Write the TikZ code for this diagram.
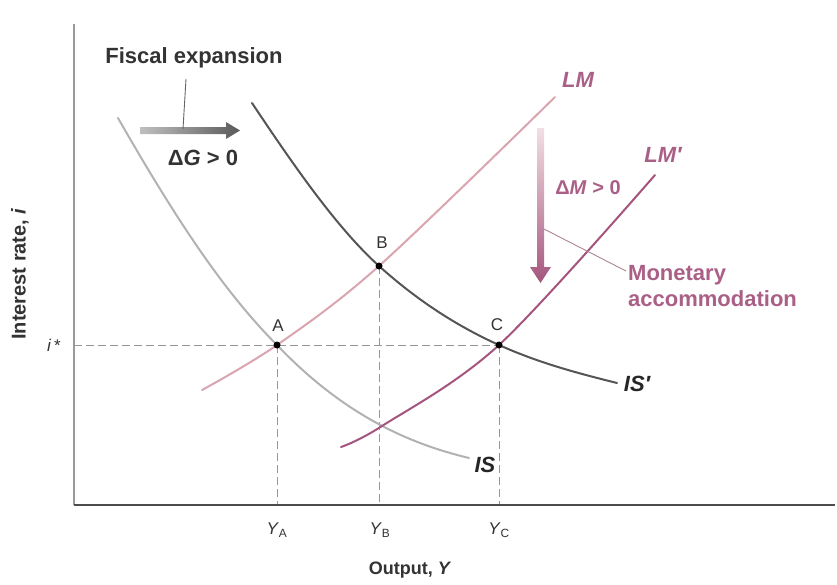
\documentclass[tikz,border=0pt]{standalone}
\usepackage{fontspec}
\setmainfont{Liberation Sans}
\begin{document}
\begin{tikzpicture}[x=1pt,y=-1pt,
  lbl/.style={font=\fontsize{22}{24}\selectfont\bfseries, inner sep=0pt},
  ptlbl/.style={font=\fontsize{17}{19}\selectfont, inner sep=0pt, text=black!80},
  ylbl/.style={font=\fontsize{17}{19}\selectfont, inner sep=0pt, text=black!80},
  dot/.style={circle, fill=black, inner sep=0pt, minimum size=7pt},
  guide/.style={draw=guidegray, line width=0.8pt, dash pattern=on 8pt off 4pt},
  curve/.style={line width=2pt, line cap=round}
]
\definecolor{isgray}{RGB}{178,178,178}
\definecolor{isdark}{RGB}{85,85,85}
\definecolor{lmpink}{RGB}{218,165,175}
\definecolor{lmmauve}{RGB}{165,85,125}
\definecolor{mauvetext}{RGB}{170,95,135}
\definecolor{guidegray}{RGB}{150,150,150}
\useasboundingbox (0,0) rectangle (837,584);

% points
\coordinate (A) at (277,345);
\coordinate (B) at (379,266);
\coordinate (C) at (499,345);
\coordinate (O) at (74,505);
\coordinate (ytop) at (74,24);
\coordinate (xend) at (835,505);
\coordinate (iax) at (74,345);
\coordinate (YAax) at (277,505);
\coordinate (YBax) at (379,505);
\coordinate (YCax) at (499,505);

% guides
\draw[guide] (iax) -- (C);
\draw[guide] (A) -- (YAax);
\draw[guide] (B) -- (YBax);
\draw[guide] (C) -- (YCax);

% axes
\draw[line width=2.2pt, draw=black!40] (O) -- (ytop);
\draw[line width=1.6pt, draw=black!70] (O) -- (xend);

% curves
\draw[curve, draw=isgray] (118,118) .. controls (173,214) and (222,290) .. (A)
  .. controls (352,424) and (424,447) .. (469,458);
\draw[curve, draw=isdark] (252,103) .. controls (294,166) and (337,228) .. (B)
  .. controls (419,302) and (459,327) .. (C)
  .. controls (539,363) and (577,373) .. (617,383);
\draw[curve, draw=lmpink] plot[smooth, tension=0.55] coordinates {(202,390) (277,345) (379,266) (555,97)};
\draw[curve, draw=lmmauve] plot[smooth, tension=0.55] coordinates {(341,447) (382,426) (499,345) (655,175)};

% dots
\node[dot] (dA) at (A) {};
\node[dot] (dB) at (B) {};
\node[dot] (dC) at (C) {};
\node[ptlbl] (lA) at (278,326) {A};
\node[ptlbl] (lB) at (382,243) {B};
\node[ptlbl] (lC) at (497,325) {C};

% curve labels
\node[lbl, text=black!85] (lIS) at (485,465) {\itshape IS};
\node[lbl, text=black!85] (lISp) at (637,384) {\itshape IS′};
\node[lbl, text=mauvetext] (lLM) at (578,80) {\itshape LM};
\node[lbl, text=mauvetext] (lLMp) at (663,155) {\itshape LM′};

% fiscal expansion
\shade[left color=black!25, right color=black!65] (140,127) -- (226,127) -- (226,122) -- (240,130.5) -- (226,139) -- (226,134) -- (140,134) -- cycle;
\node[lbl, text=black!80] (fe) at (194,58) {Fiscal expansion};
\coordinate (feend) at (183,129);
\draw[line width=0.9pt, draw=black!60] (186,79) -- (feend);
\node[lbl, text=black!80] (dG) at (203,158) {Δ\textit{G} > 0};

% monetary accommodation
\shade[top color=lmpink!35, bottom color=lmmauve] (537,128) -- (544,128) -- (544,267) -- (551,267) -- (540.5,283) -- (530,267) -- (537,267) -- cycle;
\node[font=\fontsize{20}{22}\selectfont\bfseries, inner sep=0pt, text=mauvetext] (dM) at (588,188) {Δ\textit{M} > 0};
\coordinate (mastart) at (544,229);
\node[lbl, text=mauvetext, anchor=west] (mon) at (628,275) {Monetary};
\node[lbl, text=mauvetext, anchor=west] (acc) at (628,299) {accommodation};
\draw[line width=0.9pt, draw=lmpink!80!black] (mastart) -- (626,271);

% axis labels
\node[ylbl] (yA) at (277,530) {\textit{Y}\textsubscript{A}};
\node[ylbl] (yB) at (380,530) {\textit{Y}\textsubscript{B}};
\node[ylbl] (yC) at (499,530) {\textit{Y}\textsubscript{C}};
\node[font=\fontsize{18}{20}\selectfont\bfseries, inner sep=0pt, text=black!80] (xl) at (410,570) {Output, \textit{Y}};
\node[font=\fontsize{20}{22}\selectfont\bfseries, inner sep=0pt, text=black!80, rotate=90] (yl) at (20,274) {Interest rate, \textit{i}};
\node[ylbl] (istar) at (54,345) {\textit{i}\,*};
\end{tikzpicture}
\end{document}
